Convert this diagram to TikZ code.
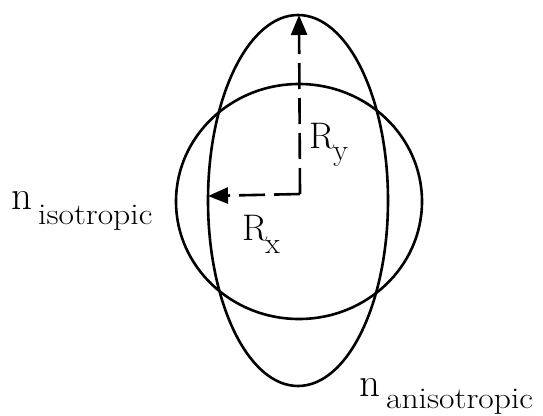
\documentclass[tikz,border=0pt]{standalone}
\usepackage{fontspec}
\usetikzlibrary{arrows.meta}
\newcommand{\widesub}[1]{\scalebox{1.12}[1]{\fontsize{30}{32}\selectfont #1}}
\begin{document}
\begin{tikzpicture}[x=1pt,y=-1pt,
  curve/.style={line width=2.6pt},
  radius/.style={line width=2.6pt, dash pattern=on 26pt off 9pt, -{Triangle[length=20pt,width=16pt]}},
  lbl/.style={anchor=base west, inner sep=0pt},
  big/.style={font=\fontsize{41}{43}\selectfont\addfontfeatures{FakeBold=0.6}},
  rr/.style={font=\fontsize{37}{39}\selectfont\addfontfeatures{FakeBold=0.6}}]
\useasboundingbox (0,0) rectangle (543,415);
% shapes
\draw[curve] (299,201.5) ellipse [x radius=123, y radius=117.5];
\draw[curve] (298,200.5) ellipse [x radius=90, y radius=185.5];
% radii
\coordinate (O) at (300,194);
\coordinate (T) at (299,15);
\coordinate (L) at (208,196);
\draw[radius] (O) -- (T);
\draw[radius] (O) -- (L);
% labels
\node[lbl, rr] (ry) at (309,148) {R\hspace{-1pt}\raisebox{-12pt}{\fontsize{30}{32}\selectfont y}};
\node[lbl, rr] (rx) at (242,240) {R\hspace{-2pt}\raisebox{-13pt}{\fontsize{30}{32}\selectfont x}};
\node[lbl, big] (niso) at (11,209) {n\hspace{6pt}\raisebox{-15pt}{\widesub{isotropic}}};
\node[lbl, big] (naniso) at (359,396) {n\hspace{6pt}\raisebox{-12pt}{\widesub{anisotropic}}};
\end{tikzpicture}
\end{document}
